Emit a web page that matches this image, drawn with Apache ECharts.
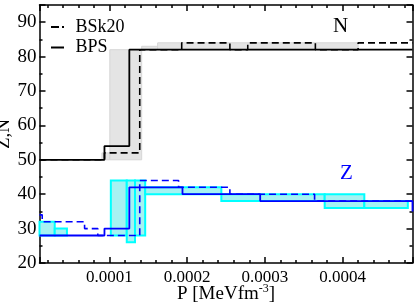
<!DOCTYPE html>
<html>
<head>
<meta charset="utf-8">
<script src="https://cdn.jsdelivr.net/npm/echarts@6/dist/echarts.min.js"></script>
<style>
html,body{margin:0;padding:0;background:#fff;}
#chart{width:415px;height:307px;}
</style>
</head>
<body>
<div id="chart"></div>
<script>
// step curves: P where each step starts, value held from there (last point closes the curve)
var nBpsX = [0.00001, 0.0000936, 0.0001256, 0.00049];
var nBpsY = [50, 54, 82, 82];
var nBskX = [0.00001, 0.0000936, 0.000139, 0.000193, 0.000255, 0.000278, 0.000365, 0.00042, 0.00049];
var nBskY = [50, 52, 82, 84, 82, 84, 82, 84, 84];
var zBpsX = [0.00001, 0.0000936, 0.0001256, 0.000194, 0.000294, 0.00049];
var zBpsY = [28, 30, 42, 40, 38, 35];
var zBskX = [0.00001, 0.0000135, 0.000068, 0.000085, 0.000139, 0.000189, 0.000255, 0.000364, 0.00049];
var zBskY = [34, 32, 30, 28, 44, 42, 40, 38, 38];

// spread bands (grey for N, cyan for Z)
var nBandX0 = [0.0000903, 0.0001005, 0.0001415, 0.000162];
var nBandX1 = [0.0001005, 0.0001415, 0.000162, 0.00042];
var nBandLo = [50, 50, 82, 82];
var nBandHi = [52, 82, 83, 84];
var zBandX0 = [0.00001, 0.0000296, 0.0001018, 0.0001223, 0.0001329, 0.000146, 0.000244, 0.000377, 0.000428];
var zBandX1 = [0.0000296, 0.0000453, 0.0001223, 0.0001329, 0.000146, 0.000244, 0.000377, 0.000428, 0.000484];
var zBandLo = [28, 28, 28, 26, 28, 40, 38, 36, 36];
var zBandHi = [32, 30, 44, 44, 44, 42, 40, 40, 38];

var xTicks = [0.0001, 0.0002, 0.0003, 0.0004];

var serif = 'Liberation Serif';

function steps(xs, ys) {
  return xs.map(function (x, i) { return [x, ys[i]]; });
}
function bands(x0, x1, lo, hi) {
  return x0.map(function (x, i) { return [x, x1[i], lo[i], hi[i]]; });
}
function bandRender(fill, stroke, lw) {
  return function (params, api) {
    var a = api.coord([api.value(0), api.value(3)]);
    var b = api.coord([api.value(1), api.value(2)]);
    return {
      type: 'rect',
      shape: {x: a[0], y: a[1], width: b[0] - a[0], height: b[1] - a[1]},
      style: {fill: fill, stroke: stroke, lineWidth: lw}
    };
  };
}

function xAxisCfg(pos, labels) {
  return {
    type: 'value', position: pos, min: 0.00001, max: 0.00049, splitNumber: 5,
    axisLine: {lineStyle: {color: '#000', width: 1.5}},
    axisTick: {inside: true, length: 6, lineStyle: {color: '#000', width: 1.5}},
    minorTick: {show: true, splitNumber: 5, length: 3, lineStyle: {color: '#000', width: 1.5}},
    splitLine: {show: false},
    axisLabel: {
      show: labels, showMinLabel: false, showMaxLabel: false, margin: 6,
      fontFamily: serif, fontSize: 17, color: '#000',
      formatter: function (v) {
        return xTicks.some(function (t) { return Math.abs(t - v) < 1e-9; }) ? v.toFixed(4) : '';
      }
    },
    name: labels ? '{a|P [MeVfm}{s|-3}{a|]}' : '',
    nameLocation: 'middle', nameGap: 20, nameMoveOverlap: false,
    nameTextStyle: {
      rich: {
        a: {fontFamily: serif, fontSize: 19, color: '#000'},
        s: {fontFamily: serif, fontSize: 12, color: '#000', verticalAlign: 'top', padding: [0, 0, 10, 0]}
      }
    }
  };
}
function yAxisCfg(pos, labels) {
  return {
    type: 'value', position: pos, min: 20, max: 95, interval: 10,
    axisLine: {lineStyle: {color: '#000', width: 1.5}},
    axisTick: {inside: true, length: 6, lineStyle: {color: '#000', width: 1.5}},
    minorTick: {show: true, splitNumber: 2, length: 3, lineStyle: {color: '#000', width: 1.5}},
    splitLine: {show: false},
    axisLabel: {show: labels, showMaxLabel: false, margin: 3, fontFamily: serif, fontSize: 19, color: '#000'},
    name: labels ? 'Z,N' : '', nameLocation: 'middle', nameGap: 26, nameMoveOverlap: false,
    nameTextStyle: {fontFamily: serif, fontSize: 19, color: '#000'}
  };
}

var chart = echarts.init(document.getElementById('chart'));
chart.setOption({
  animation: false,
  grid: {left: 39.5, right: 2.5, top: 5, bottom: 44, outerBoundsMode: 'none', containLabel: false},
  xAxis: [xAxisCfg('bottom', true), xAxisCfg('top', false)],
  yAxis: [yAxisCfg('left', true), yAxisCfg('right', false)],
  legend: {
    left: 46, top: 13, orient: 'vertical', itemWidth: 14, itemHeight: 2, itemGap: 2.5,
    data: [
      {name: 'BSk20', icon: 'path://M0,0H8V2H0Z M11,0H13V2H11Z'},
      {name: 'BPS', icon: 'path://M0,0H13V2H0Z'}
    ],
    itemStyle: {color: '#000'},
    textStyle: {fontFamily: serif, fontSize: 18, color: '#000', lineHeight: 14, padding: [0, 0, 0, 6]}
  },
  graphic: [
    {type: 'text', left: 333, top: 16, style: {text: 'N', fontFamily: serif, fontSize: 21, fill: '#000'}},
    {type: 'text', left: 340, top: 163, style: {text: 'Z', fontFamily: serif, fontSize: 21, fill: '#0000ff'}}
  ],
  series: [
    {type: 'custom', name: 'N band', renderItem: bandRender('#e4e4e4', '#d6d6d6', 1),
      data: bands(nBandX0, nBandX1, nBandLo, nBandHi), encode: {x: [0, 1], y: [2, 3]}, z: 1, silent: true},
    {type: 'custom', name: 'Z band', renderItem: bandRender('#a6f2f2', '#00ffff', 2),
      data: bands(zBandX0, zBandX1, zBandLo, zBandHi), encode: {x: [0, 1], y: [2, 3]}, z: 1, silent: true},
    {type: 'line', name: 'BSk20', step: 'end', symbol: 'none', z: 3,
      lineStyle: {color: '#000', width: 1.6, type: [7, 4]}, itemStyle: {color: '#000'},
      data: steps(nBskX, nBskY)},
    {type: 'line', name: 'BPS', step: 'end', symbol: 'none', z: 4,
      lineStyle: {color: '#000', width: 1.8}, itemStyle: {color: '#000'},
      data: steps(nBpsX, nBpsY)},
    {type: 'line', name: 'BSk20 Z', step: 'end', symbol: 'none', z: 3,
      lineStyle: {color: '#0000ff', width: 1.6, type: [7, 4]}, itemStyle: {color: '#0000ff'},
      data: steps(zBskX, zBskY)},
    {type: 'line', name: 'BPS Z', step: 'end', symbol: 'none', z: 4,
      lineStyle: {color: '#0000ff', width: 1.8}, itemStyle: {color: '#0000ff'},
      data: steps(zBpsX, zBpsY)}
  ]
});
</script>
</body>
</html>
